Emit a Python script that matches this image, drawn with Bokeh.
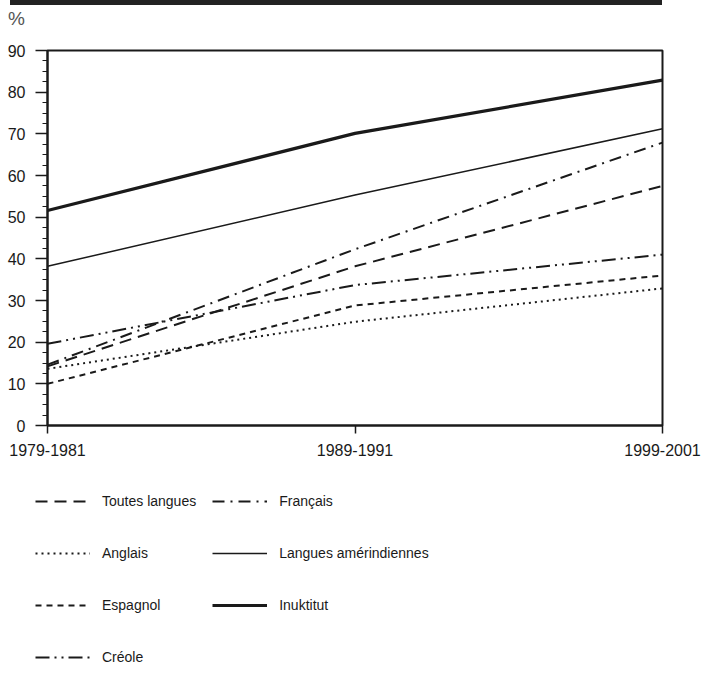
from bokeh.plotting import figure
from bokeh.models import (Range1d, FixedTicker, SingleIntervalTicker, Legend,
                          LegendItem, Div)
from bokeh.layouts import column, row
from bokeh.embed import file_html
from bokeh.resources import INLINE

# ---- data ----
periods = ["1979-1981", "1989-1991", "1999-2001"]
period_x = [1980, 1990, 2000]

toutes_langues = [14.2, 38.2, 57.5]
francais = [14.6, 42.3, 67.9]
anglais = [13.6, 24.9, 32.9]
amerindiennes = [38.2, 55.3, 71.2]
espagnol = [10.0, 28.8, 36.0]
inuktitut = [51.6, 70.1, 82.9]
creole = [19.6, 33.7, 41.0]

FONT = "Liberation Sans"
INK = "#1a1a1a"

series = [
    ("Toutes langues", toutes_langues, dict(line_width=2, line_dash="12 7")),
    ("Anglais", anglais, dict(line_width=2, line_dash="2 4")),
    ("Espagnol", espagnol, dict(line_width=2, line_dash="6 5")),
    ("Créole", creole, dict(line_width=2, line_dash="14 5 2 5 2 5")),
    ("Français", francais, dict(line_width=2, line_dash="12 6 2 6")),
    ("Langues amérindiennes", amerindiennes, dict(line_width=1.5)),
    ("Inuktitut", inuktitut, dict(line_width=3.2)),
]

# ---- header: black rule and unit ----
header = Div(
    text=("<div style='width:652px;height:5px;background:#222222;margin-left:10px'></div>"
          "<div style=\"font-family:'Liberation Sans';font-size:19px;color:#555555;"
          "line-height:20px;margin:4px 0 0 8px\">%</div>"),
    width=705, height=30, margin=(0, 0, 0, 0))

# ---- main chart ----
p = figure(width=705, height=440, x_range=Range1d(1980, 2000), y_range=Range1d(0, 90),
           title=None, output_backend="svg", toolbar_location=None,
           min_border_left=47, min_border_right=43, min_border_top=20, min_border_bottom=45)
p.grid.visible = False
p.outline_line_color = INK
p.outline_line_width = 2

p.xaxis.ticker = FixedTicker(ticks=period_x)
p.xaxis.major_label_overrides = {x: lab for x, lab in zip(period_x, periods)}
p.xaxis.minor_tick_line_color = None
p.xaxis.major_tick_out = 8
p.xaxis.major_tick_in = 0
p.xaxis.major_label_standoff = 10
p.yaxis.ticker = SingleIntervalTicker(interval=10, num_minor_ticks=4)
p.yaxis.major_tick_out = 12
p.yaxis.major_tick_in = 0
p.yaxis.minor_tick_out = 5
p.yaxis.minor_tick_in = 0
p.yaxis.major_label_standoff = 10
for ax in (p.xaxis, p.yaxis):
    ax.axis_line_width = 2
    ax.axis_line_color = INK
    ax.major_tick_line_color = INK
    ax.major_tick_line_width = 1.5
    ax.minor_tick_line_color = INK
    ax.major_label_text_font = FONT
    ax.major_label_text_font_size = "16px"
    ax.major_label_text_color = INK

for name, vals, style in series:
    p.line(period_x, vals, line_color=INK, **style)

# ---- legend panel (same series, drawn outside its visible range) ----
q = figure(width=705, height=205, x_range=Range1d(1980, 2000), y_range=Range1d(1000, 1001),
           title=None, output_backend="svg", toolbar_location=None,
           x_axis_location=None, y_axis_location=None,
           min_border_left=0, min_border_right=0, min_border_top=0, min_border_bottom=0)
q.grid.visible = False
q.outline_line_color = None

items = []
for name, vals, style in series:
    r = q.line(period_x, vals, line_color=INK, **style)
    items.append(LegendItem(label=name, renderers=[r]))

legend = Legend(items=items, nrows=4, orientation="vertical", location=(35, 0),
                glyph_width=55, glyph_height=36, label_height=36, label_standoff=12,
                spacing=16, padding=0, margin=0, border_line_color=None,
                background_fill_alpha=0,
                label_text_font=FONT, label_text_font_size="14px", label_text_color=INK)
q.add_layout(legend, "center")

layout = column(header, p, row(q), spacing=0)
open("out.html", "w").write(file_html(layout, INLINE))
